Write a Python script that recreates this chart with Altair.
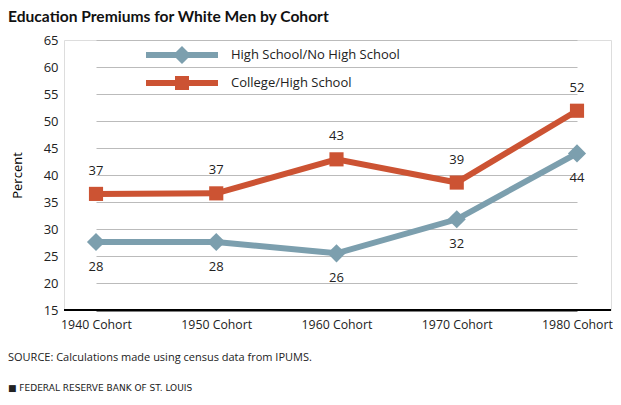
import altair as alt
import pandas as pd

cohorts = ["1940 Cohort", "1950 Cohort", "1960 Cohort", "1970 Cohort", "1980 Cohort"]
hs_values = [27.6, 27.6, 25.5, 31.8, 44.0]
col_values = [36.5, 36.6, 42.9, 38.6, 51.9]
hs_labels = ["28", "28", "26", "32", "44"]
col_labels = ["37", "37", "43", "39", "52"]
series_names = ["High School/No High School", "College/High School"]
colors = ["#7c9fae", "#cc5333"]
y_min = 15
y_ticks = [15, 20, 25, 30, 35, 40, 45, 50, 55, 60, 65]

rows = []
for c, v, l in zip(cohorts, hs_values, hs_labels):
    rows.append({"cohort": c, "value": v, "label": l, "series": series_names[0]})
for c, v, l in zip(cohorts, col_values, col_labels):
    rows.append({"cohort": c, "value": v, "label": l, "series": series_names[1]})
df = pd.DataFrame(rows)

FONT = "Open Sans"
PAD_L = 56

line_diamond = ("M-1,-0.083L-0.167,-0.083L0,-0.25L0.167,-0.083L1,-0.083L1,0.083"
                "L0.167,0.083L0,0.25L-0.167,0.083L-1,0.083Z")
line_square = ("M-1,-0.083L-0.194,-0.083L-0.194,-0.194L0.194,-0.194L0.194,-0.083L1,-0.083"
               "L1,0.083L0.194,0.083L0.194,0.194L-0.194,0.194L-0.194,0.083L-1,0.083Z")

legend = alt.Legend(
    title=None, orient="none", legendX=82, legendY=1, padding=0,
    symbolSize=5184, clipHeight=28, rowPadding=0, symbolOpacity=1,
    symbolStrokeWidth=0, labelFont=FONT, labelFontSize=13, labelColor="#222222",
    labelOffset=13, labelLimit=400,
)

x_enc = alt.X("cohort:N", sort=cohorts, scale=alt.Scale(type="point", range=[32, 513], padding=0),
              axis=alt.Axis(title=None, labelFont=FONT, labelFontSize=12.3, labelColor="#222222",
                            labelAngle=0, ticks=False, grid=False, domain=False, labelPadding=8))
y_scale = alt.Scale(domain=[15, 65], nice=False, zero=False)
y_axis = alt.Axis(title="Percent", values=y_ticks, labelFont=FONT,
                  labelFontSize=13, labelColor="#222222", ticks=False, domain=False,
                  grid=True,
                  gridColor=alt.condition("datum.value == 15", alt.value("#000000"), alt.value("#bbbbbb")),
                  gridWidth=alt.condition("datum.value == 15", alt.value(2), alt.value(1)),
                  labelPadding=6,
                  titleFont=FONT, titleFontSize=13, titleFontWeight="normal",
                  titleColor="#000000", titlePadding=19)
y_enc = alt.Y("value:Q", scale=y_scale, axis=y_axis, title="Percent")
color_enc = alt.Color("series:N", scale=alt.Scale(domain=series_names, range=colors), legend=legend)

base = alt.Chart(df)

baseline = alt.Chart(pd.DataFrame({"v": [y_min]})).mark_rule(color="#000000", strokeWidth=2).encode(
    y=alt.Y("v:Q", scale=y_scale, axis=y_axis, title="Percent"))

lines = base.mark_line(strokeWidth=6).encode(x=x_enc, y=y_enc, color=color_enc, detail="series:N")

diamonds = base.transform_filter(alt.datum.series == series_names[0]).mark_point(
    shape="diamond", filled=True, size=330, opacity=1).encode(x=x_enc, y=y_enc, color=color_enc)
squares = base.transform_filter(alt.datum.series == series_names[1]).mark_point(
    shape="square", filled=True, size=200, opacity=1).encode(x=x_enc, y=y_enc, color=color_enc)

legend_layer = base.mark_point(filled=True, opacity=0).encode(
    x=x_enc, y=y_enc, color=color_enc,
    shape=alt.Shape("series:N", scale=alt.Scale(domain=series_names, range=[line_diamond, line_square]),
                    legend=legend))

hs_text = base.transform_filter(alt.datum.series == series_names[0]).mark_text(
    dy=25, font=FONT, fontSize=13, color="#222222").encode(x=x_enc, y=y_enc, text="label:N")
col_text = base.transform_filter(alt.datum.series == series_names[1]).mark_text(
    dy=-23, font=FONT, fontSize=13, color="#222222").encode(x=x_enc, y=y_enc, text="label:N")

source = alt.Chart(pd.DataFrame({"t": ["SOURCE: Calculations made using census data from IPUMS."]})).mark_text(
    align="left", baseline="middle", font=FONT, fontSize=11, color="#222222").encode(
    x=alt.value(-PAD_L), y=alt.value(318), text="t:N")
frb = alt.Chart(pd.DataFrame({"t": ["\u25a0   FEDERAL RESERVE BANK OF ST. LOUIS"]})).mark_text(
    align="left", baseline="middle", font="DejaVu Sans", fontSize=9, color="#222222").encode(
    x=alt.value(-PAD_L), y=alt.value(348), text="t:N")

chart = alt.layer(baseline, lines, legend_layer, diamonds, squares, hs_text, col_text, source, frb).properties(
    width=547, height=270,
    title=alt.TitleParams("Education Premiums for White Men by Cohort", anchor="start", frame="group",
                          font="Lato", fontSize=15.6, fontWeight="bold",
                          color="#111111", dx=-PAD_L, offset=8),
    autosize=alt.AutoSizeParams(type="none"),
    padding={"left": PAD_L, "top": 32, "right": 2, "bottom": 85},
).configure_view(stroke=None).configure(background="white")

chart.save("out.html", embed_options={"renderer": "svg", "actions": False})
